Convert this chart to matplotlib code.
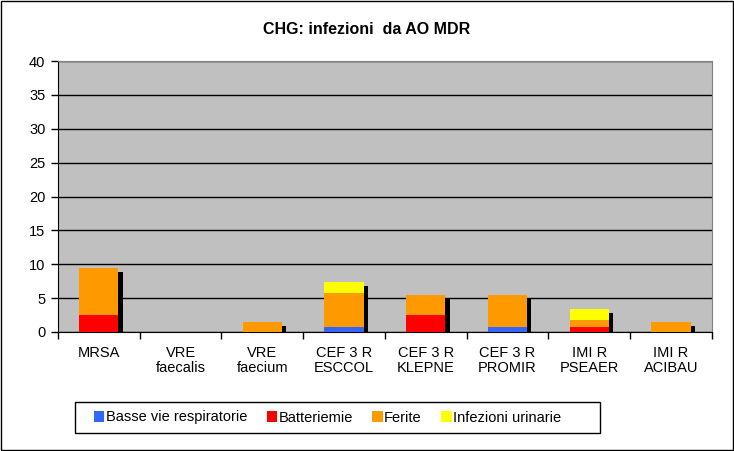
import matplotlib
matplotlib.use("Agg")
import matplotlib.pyplot as plt
import numpy as np
from matplotlib.patches import Rectangle

plt.rcParams['font.family'] = ['Liberation Sans', 'DejaVu Sans']

categories = ["MRSA", "VRE\nfaecalis", "VRE\nfaecium", "CEF 3 R\nESCCOL",
              "CEF 3 R\nKLEPNE", "CEF 3 R\nPROMIR", "IMI R\nPSEAER", "IMI R\nACIBAU"]
basse_vie = [0, 0, 0, 0.7, 0, 0.7, 0, 0]
batteriemie = [2.5, 0, 0, 0, 2.5, 0, 0.7, 0]
ferite = [7.0, 0, 1.5, 5.0, 3.0, 4.8, 1.0, 1.5]
urinarie = [0, 0, 0, 1.7, 0, 0, 1.7, 0]
series_names = ["Basse vie respiratorie", "Batteriemie", "Ferite", "Infezioni urinarie"]
colors = ["#3366FF", "#FF0000", "#FF9900", "#FFFF00"]
yticks = [0, 5, 10, 15, 20, 25, 30, 35, 40]

fig = plt.figure(figsize=(7.34, 4.51), dpi=100)
fig.patch.set_facecolor("white")
fig.add_artist(Rectangle((0.001, 0.002), 0.997, 0.995, transform=fig.transFigure,
                         fill=False, edgecolor="black", linewidth=1.0))
ax = fig.add_axes([0.079, 0.2639, 0.891, 0.6008])
ax.set_facecolor("#C0C0C0")

x = np.arange(len(categories))
w = 0.48
data = [basse_vie, batteriemie, ferite, urinarie]
totals = np.sum(data, axis=0)

# shadows
for xi, t in zip(x, totals):
    if t > 0:
        ax.bar(xi + 0.05, t - 0.6, width=w, bottom=0, color="black", zorder=2)

bottom = np.zeros(len(categories))
for vals, c, name in zip(data, colors, series_names):
    vals = np.array(vals)
    ax.bar(x, vals, width=w, bottom=bottom, color=c, label=name, zorder=3)
    bottom += vals

ax.set_xlim(-0.5, len(categories) - 0.5)
ax.set_ylim(0, 40)
ax.set_yticks(yticks)
ax.yaxis.grid(True, color="black", linewidth=1)
ax.set_axisbelow(True)
ax.tick_params(axis='y', labelsize=10.5, length=5, direction='out', width=1, pad=4)
ax.set_xticks(x)
ax.set_xticklabels(categories, fontsize=10.5, linespacing=1.1)
ax.tick_params(axis='x', length=0, pad=10)
ax.set_xticks(np.arange(len(categories) + 1) - 0.5, minor=True)
ax.tick_params(axis='x', which='minor', length=5, width=1, direction='out')
ax.spines["left"].set_color("black")
ax.spines["bottom"].set_color("black")
ax.spines["right"].set_color("#808080")
ax.spines["top"].set_color("#808080")

fig.text(0.5, 0.935, "CHG: infezioni  da AO MDR", ha="center", va="center",
         fontsize=11.5, fontweight="bold")

# legend frame
fig.add_artist(Rectangle((75 / 734, 1 - 433 / 451), 525 / 734, 31 / 451,
                         transform=fig.transFigure, fill=True, facecolor="white",
                         edgecolor="black", linewidth=1.0, zorder=1))
leg = fig.legend(loc="center left", bbox_to_anchor=(94 / 734, 1 - 417.5 / 451), ncol=4,
                 fontsize=10.5, frameon=False, handlelength=0.7,
                 handleheight=0.7, handletextpad=0.1, columnspacing=1.35,
                 borderpad=0, borderaxespad=0)
leg.set_zorder(2)

fig.savefig("out.png", dpi=100)
